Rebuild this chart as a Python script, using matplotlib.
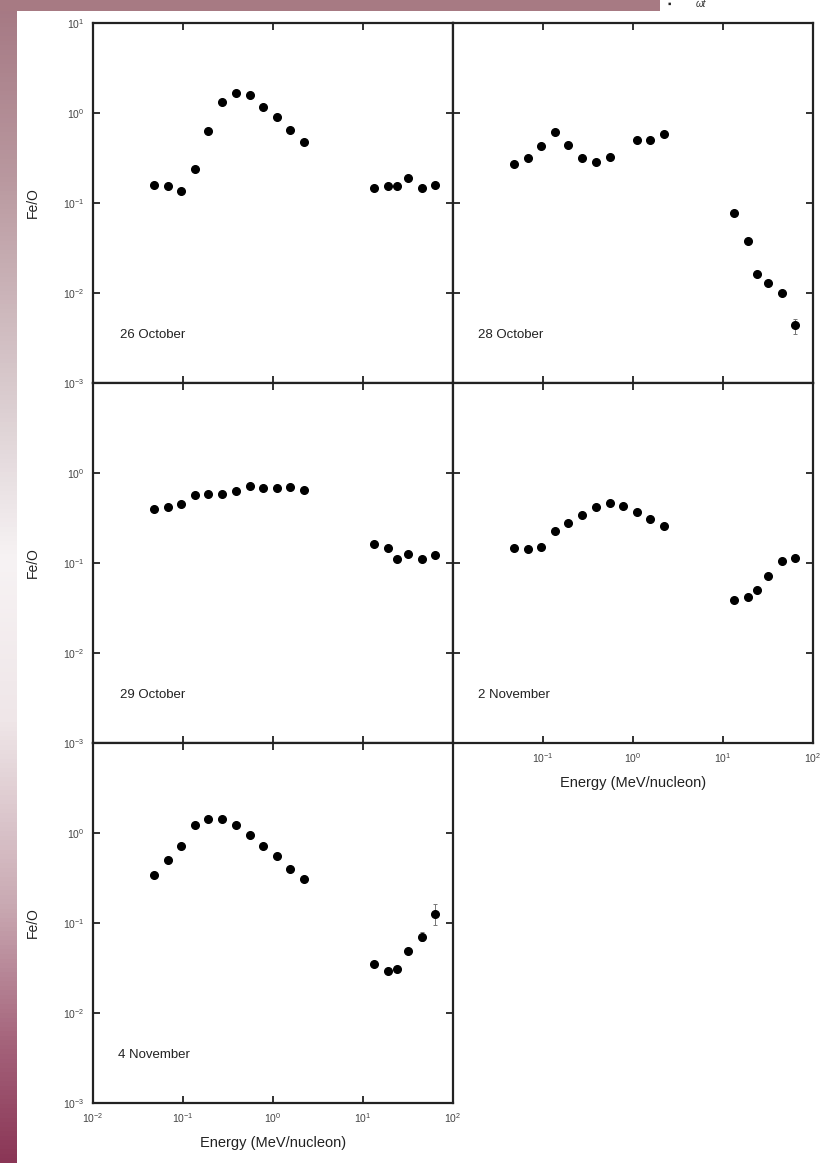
import numpy as np
import matplotlib
matplotlib.use('Agg')
import matplotlib.pyplot as plt
from matplotlib.colors import LinearSegmentedColormap
from matplotlib.patches import Rectangle
from matplotlib.ticker import LogLocator, LogFormatterSciNotation, NullLocator

plt.rcParams['font.family'] = ['Liberation Sans', 'DejaVu Sans']
plt.rcParams['mathtext.default'] = 'regular'
plt.rcParams['axes.unicode_minus'] = False

# Fe/O ratio vs energy for each event day
energy_low = [0.048, 0.068, 0.096, 0.136, 0.19, 0.27, 0.385, 0.55, 0.77, 1.1, 1.55, 2.2]
energy_high = [13.4, 18.8, 24.0, 32.0, 45.0, 63.0]
energy_low_28oct = [0.048, 0.068, 0.096, 0.136, 0.19, 0.27, 0.385, 0.55, 1.1, 1.55, 2.2]

feo_26oct_low = [0.160, 0.155, 0.136, 0.240, 0.635, 1.32, 1.68, 1.585, 1.17, 0.90, 0.647, 0.476]
feo_26oct_high = [0.147, 0.153, 0.155, 0.188, 0.148, 0.160]

feo_28oct_low = [0.271, 0.318, 0.427, 0.615, 0.445, 0.314, 0.288, 0.327, 0.497, 0.497, 0.585]
feo_28oct_high = [0.078, 0.038, 0.0162, 0.0130, 0.0099, 0.0044]
err_28oct_high_lo = [0, 0, 0, 0, 0, 0.0035]
err_28oct_high_hi = [0, 0, 0, 0, 0, 0.0052]

feo_29oct_low = [0.394, 0.416, 0.449, 0.570, 0.585, 0.585, 0.631, 0.711, 0.676, 0.687, 0.699, 0.647]
feo_29oct_high = [0.163, 0.147, 0.110, 0.126, 0.112, 0.122]

feo_2nov_low = [0.146, 0.142, 0.151, 0.229, 0.281, 0.339, 0.419, 0.464, 0.434, 0.372, 0.308, 0.255]
feo_2nov_high = [0.0385, 0.0416, 0.0497, 0.0711, 0.104, 0.113]

feo_4nov_low = [0.339, 0.505, 0.711, 1.22, 1.44, 1.43, 1.23, 0.95, 0.722, 0.555, 0.401, 0.306]
feo_4nov_high = [0.0348, 0.0293, 0.0308, 0.0489, 0.0705, 0.127]
err_4nov_high_lo = [0, 0, 0, 0, 0.063, 0.094]
err_4nov_high_hi = [0, 0, 0, 0, 0.080, 0.163]

panels = [
    ('26 October', energy_low, feo_26oct_low, feo_26oct_high, None, None),
    ('28 October', energy_low_28oct, feo_28oct_low, feo_28oct_high, err_28oct_high_lo, err_28oct_high_hi),
    ('29 October', energy_low, feo_29oct_low, feo_29oct_high, None, None),
    ('2 November', energy_low, feo_2nov_low, feo_2nov_high, None, None),
    ('4 November', energy_low, feo_4nov_low, feo_4nov_high, err_4nov_high_lo, err_4nov_high_hi),
]

W, H = 835, 1163
fig = plt.figure(figsize=(W / 100, H / 100), dpi=100)

# page decoration: gradient strip on the left and band along the top
bg = fig.add_axes([0, 0, 1, 1], zorder=-10)
bg.set_xlim(0, W)
bg.set_ylim(H, 0)
bg.axis('off')
strip_cmap = LinearSegmentedColormap.from_list('strip', [
    (0.0, '#a57883'), (0.15, '#b9989f'), (0.35, '#dccfd2'), (0.48, '#f7f3f4'),
    (0.62, '#efe6e8'), (0.78, '#c9a9b2'), (0.9, '#a4627a'), (1.0, '#8a3656')])
grad = np.linspace(0, 1, 256).reshape(-1, 1)
bg.imshow(grad, cmap=strip_cmap, extent=[0, 17, H, 0], aspect='auto')
bg.add_patch(Rectangle((0, 0), 660, 11, color='#a77a83', lw=0))
bg.text(669, 4, '\u25aa', fontsize=7, color='#222222', ha='center', va='center')
bg.text(703, 4, '\u03c9t\u02d9', fontsize=7, style='italic', color='#333333', ha='center', va='center')

lefts = [93, 453, 93, 453, 93]
tops = [23, 23, 383, 383, 743]
size = 360

for i, (name, e_low, f_low, f_high, elo, ehi) in enumerate(panels):
    ax = fig.add_axes([lefts[i] / W, 1 - (tops[i] + size) / H, size / W, size / H])
    ax.set_xscale('log')
    ax.set_yscale('log')
    ax.set_xlim(1e-2, 1e2)
    ax.set_ylim(1e-3, 1e1)

    ax.plot(e_low, f_low, 'o', color='black', ms=5.5, mec='black')
    if elo is None:
        ax.plot(energy_high, f_high, 'o', color='black', ms=5.5, mec='black')
    else:
        yerr = [np.array(f_high) - np.where(np.array(elo) > 0, elo, f_high),
                np.where(np.array(ehi) > 0, ehi, f_high) - np.array(f_high)]
        ax.errorbar(energy_high, f_high, yerr=yerr, fmt='o', color='black', ms=5.5,
                    ecolor='#777777', elinewidth=0.7, capsize=1.5, capthick=0.7)

    ax.text(0.075 if i in (0, 2) else 0.07, 0.125, name, transform=ax.transAxes,
            fontsize=9.5, color='#222222')

    ax.xaxis.set_major_locator(LogLocator(base=10, numticks=10))
    ax.yaxis.set_major_locator(LogLocator(base=10, numticks=10))
    ax.xaxis.set_minor_locator(NullLocator())
    ax.yaxis.set_minor_locator(NullLocator())
    ax.xaxis.set_major_formatter(LogFormatterSciNotation())
    ax.yaxis.set_major_formatter(LogFormatterSciNotation())
    ax.tick_params(which='major', direction='in', length=5, width=1.3,
                   top=True, right=True, labelsize=7.5, labelcolor='#444444', pad=6,
                   color='#222222')
    for sp in ax.spines.values():
        sp.set_linewidth(1.6)
        sp.set_color('#222222')

    # tick labels only on the outer edges
    if i in (0, 2, 4):
        ax.set_ylabel('Fe/O', fontsize=10, color='#222222')
        ax.yaxis.set_label_coords(-0.147, 0.5)
        if i > 0:
            ax.set_yticks([1e-3, 1e-2, 1e-1, 1e0])
            ax.set_ylim(1e-3, 1e1)
    else:
        ax.tick_params(labelleft=False)

    if i == 3:
        ax.set_xticks([1e-1, 1e0, 1e1, 1e2])
        ax.set_xlim(1e-2, 1e2)
        ax.set_xlabel('Energy (MeV/nucleon)', fontsize=10.5, color='#222222', labelpad=8)
    elif i == 4:
        ax.set_xlabel('Energy (MeV/nucleon)', fontsize=10.5, color='#222222', labelpad=8)
    else:
        ax.tick_params(labelbottom=False)

fig.savefig('out.png', dpi=100)
